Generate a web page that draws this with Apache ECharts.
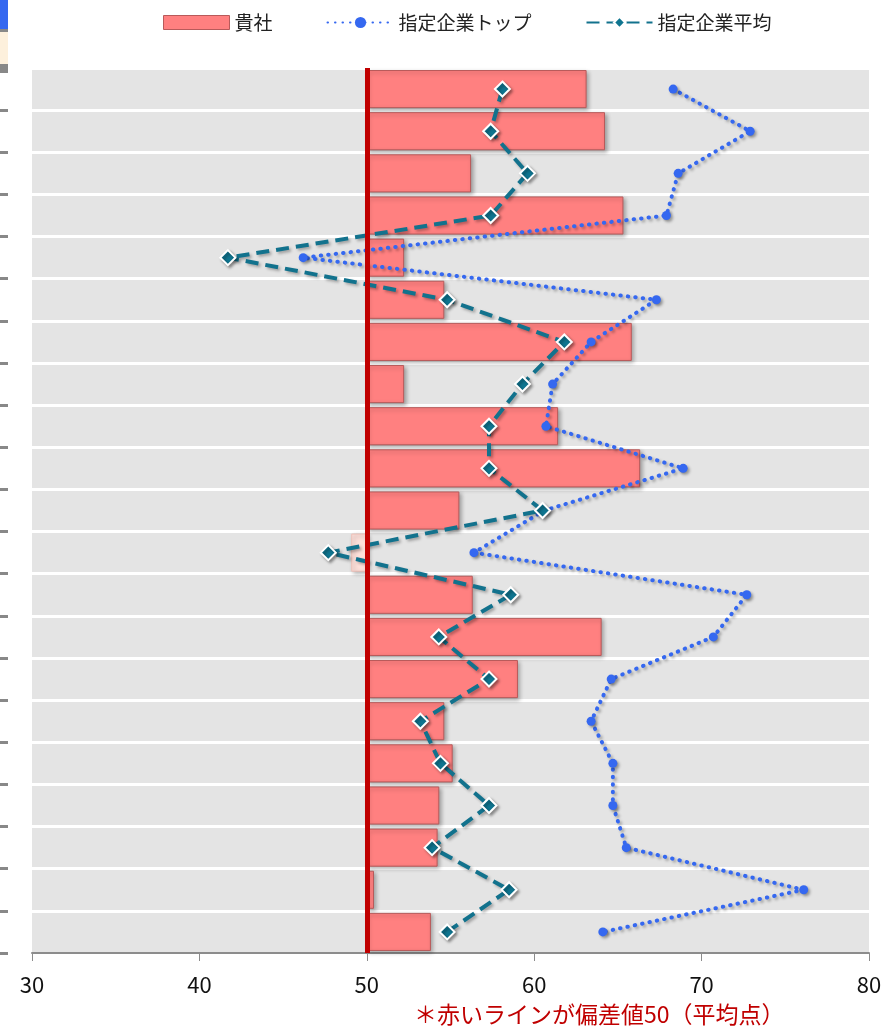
<!DOCTYPE html>
<html>
<head>
<meta charset="utf-8">
<script src="https://cdn.jsdelivr.net/npm/echarts@6/dist/echarts.min.js"></script>
<style>
    html, body { margin: 0; padding: 0; background: #fff; }
    #chart { width: 886px; height: 1029px; }
</style>
</head>
<body>
<div id="chart"></div>
<script>
// 行（ラベルは画像の外で見えない）
const categories = ['1', '2', '3', '4', '5', '6', '7', '8', '9', '10', '11',
    '12', '13', '14', '15', '16', '17', '18', '19', '20', '21'];

// 貴社の偏差値
const companyValues = [63.1, 64.2, 56.2, 65.3, 52.2, 54.6, 65.8, 52.2, 61.4, 66.3, 55.5,
    49.1, 56.3, 64.0, 59.0, 54.6, 55.1, 54.3, 54.2, 50.4, 53.8];

// 指定企業トップ
const topValues = [68.3, 72.9, 68.6, 67.9, 46.2, 67.3, 63.4, 61.1, 60.7, 68.9, 60.6,
    56.4, 72.7, 70.7, 64.6, 63.4, 64.7, 64.7, 65.5, 76.1, 64.1];

// 指定企業平均
const avgValues = [58.1, 57.4, 59.6, 57.4, 41.7, 54.8, 61.8, 59.3, 57.3, 57.3, 60.5,
    47.7, 58.6, 54.3, 57.3, 53.2, 54.4, 57.3, 53.9, 58.5, 54.8];

const xTicks = [30, 40, 50, 60, 70, 80];
const baseLine = 50;

const fontJP = '"Noto Sans CJK JP", "Noto Sans", sans-serif';

const chart = echarts.init(document.getElementById('chart'));

const option = {
    animation: false,
    textStyle: { fontFamily: fontJP },
    legend: {
        top: 8,
        left: 158,
        itemWidth: 66,
        itemHeight: 14,
        itemGap: 54,
        textStyle: { fontSize: 19, color: '#222', fontFamily: fontJP },
        data: [
            { name: '貴社', icon: 'rect', itemStyle: { color: '#ff8080', borderColor: '#b85a5a', borderWidth: 1 } },
            { name: '指定企業トップ' },
            { name: '指定企業平均' }
        ]
    },
    grid: { left: 32, right: 17, top: 68, bottom: 76 },
    xAxis: {
        type: 'value',
        min: xTicks[0],
        max: xTicks[xTicks.length - 1],
        interval: 10,
        axisLine: { show: true, lineStyle: { color: '#8c8c8c', width: 2 } },
        axisTick: { show: true, length: 8, lineStyle: { color: '#8c8c8c', width: 1 } },
        axisLabel: { fontSize: 22, color: '#111', margin: 21, fontFamily: fontJP },
        splitLine: { show: false }
    },
    yAxis: {
        type: 'category',
        data: categories,
        inverse: true,
        offset: 24,
        axisLine: { show: false },
        axisTick: { show: true, length: 8, lineStyle: { color: '#888', width: 3 } },
        axisLabel: { show: false },
        splitLine: { show: true, lineStyle: { color: '#ffffff', width: 3 } },
        splitArea: { show: true, areaStyle: { color: ['#e4e4e4', '#e4e4e4'] } }
    },
    series: [
        {
            name: '貴社',
            type: 'custom',
            z: 2,
            encode: { x: 0, y: 1 },
            data: companyValues.map((v, i) => [v, i]),
            renderItem: function (params, api) {
                const v = api.value(0);
                const idx = api.value(1);
                const p0 = api.coord([baseLine, idx]);
                const p1 = api.coord([v, idx]);
                const h = api.size([0, 1])[1] * 0.88;
                const below = v < baseLine;
                return {
                    type: 'rect',
                    shape: {
                        x: Math.min(p0[0], p1[0]),
                        y: p0[1] - h / 2,
                        width: Math.abs(p1[0] - p0[0]),
                        height: h
                    },
                    style: {
                        fill: below ? '#fde0da' : '#ff8080',
                        stroke: below ? '#f0c0b8' : '#b85a5a',
                        lineWidth: 1,
                        shadowBlur: 4,
                        shadowOffsetX: 2,
                        shadowOffsetY: 2,
                        shadowColor: 'rgba(0,0,0,0.3)'
                    }
                };
            },
            itemStyle: { color: '#ff8080' },
            markLine: {
                silent: true,
                symbol: ['none', 'none'],
                label: { show: false },
                lineStyle: { color: '#c00000', width: 5, type: 'solid' },
                data: [{ xAxis: baseLine }]
            }
        },
        {
            name: '指定企業トップ',
            type: 'line',
            z: 3,
            data: topValues,
            symbol: 'circle',
            symbolSize: 9,
            itemStyle: { color: '#3568f0', shadowBlur: 3, shadowOffsetX: 2, shadowOffsetY: 2, shadowColor: 'rgba(0,0,0,0.35)' },
            lineStyle: {
                color: '#3568f0',
                width: 4,
                type: [0.5, 7],
                cap: 'round',
                shadowBlur: 3,
                shadowOffsetX: 2,
                shadowOffsetY: 2,
                shadowColor: 'rgba(0,0,0,0.3)'
            }
        },
        {
            name: '指定企業平均',
            type: 'line',
            z: 4,
            data: avgValues,
            symbol: 'diamond',
            symbolSize: 15,
            itemStyle: {
                color: '#0f7590',
                borderColor: '#ffffff',
                borderWidth: 2,
                shadowBlur: 3,
                shadowOffsetX: 2,
                shadowOffsetY: 2,
                shadowColor: 'rgba(0,0,0,0.35)'
            },
            lineStyle: {
                color: '#12728d',
                width: 4,
                type: [13, 7],
                shadowBlur: 3,
                shadowOffsetX: 2,
                shadowOffsetY: 2,
                shadowColor: 'rgba(0,0,0,0.3)'
            }
        }
    ],
    graphic: [
        // 左上の切れ端
        { type: 'rect', left: 0, top: 0, shape: { width: 8, height: 29 }, style: { fill: '#3568f0' } },
        { type: 'rect', left: 0, top: 29, shape: { width: 8, height: 3 }, style: { fill: '#888' } },
        { type: 'rect', left: 0, top: 32, shape: { width: 8, height: 32 }, style: { fill: '#fdf0dc' } },
        { type: 'rect', left: 0, top: 64, shape: { width: 8, height: 9 }, style: { fill: '#888' } },
        {
            type: 'text',
            left: 414,
            top: 1003,
            style: {
                text: '＊赤いラインが偏差値50（平均点）',
                fill: '#c00000',
                fontSize: 23,
                fontFamily: fontJP
            }
        }
    ]
};

chart.setOption(option);
</script>
</body>
</html>
